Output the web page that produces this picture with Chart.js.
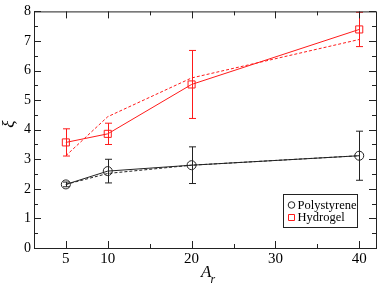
<!DOCTYPE html>
<html>
<head>
<meta charset="utf-8">
<script src="https://cdn.jsdelivr.net/npm/chart.js@4.4.0/dist/chart.umd.min.js"></script>
<style>
  html, body { margin: 0; padding: 0; background: #fff; }
  #wrap { width: 382px; height: 285px; position: relative; }
</style>
</head>
<body>
<div id="wrap"><canvas id="chart"></canvas></div>
<script>
// Aspect ratio A_r on the x axis
const aspectRatios = [5, 10, 20, 40];

// Polystyrene: measured values, error bars, dashed model curve
const polystyrene = [2.15, 2.6, 2.8, 3.12];
const polystyreneErr = [0.08, 0.4, 0.62, 0.83];
const polystyreneModel = [2.15, 2.52, 2.8, 3.12];

// Hydrogel
const hydrogel = [3.57, 3.86, 5.53, 7.39];
const hydrogelErr = [0.46, 0.36, 1.15, 0.58];
const hydrogelModel = [3.12, 4.44, 5.75, 7.05];

// Axis ticks
const xMajorTicks = [5, 10, 20, 30, 40];
const xMinorTicks = [15, 25, 35];
const yMajorTicks = [0, 1, 2, 3, 4, 5, 6, 7, 8];
const yMinorTicks = [0.5, 1.5, 2.5, 3.5, 4.5, 5.5, 6.5, 7.5];

const SERIF = '"Liberation Serif", "DejaVu Serif", serif';
const RED = '#ff1a1a';
const BLACK = '#222';

const toPoints = (ys) => aspectRatios.map((x, i) => ({ x, y: ys[i] }));

// Bordure, graduations internes (4 cotés) et titres d'axes
const framePlugin = {
  id: 'frame',
  afterDraw(chart) {
    const { ctx, chartArea: a, scales: { x, y } } = chart;
    ctx.save();
    ctx.strokeStyle = '#222';
    ctx.lineWidth = 1;
    ctx.strokeRect(a.left + 0.5, a.top + 0.5, a.width, a.height);

    const seg = (x1, y1, x2, y2) => {
      ctx.beginPath(); ctx.moveTo(x1, y1); ctx.lineTo(x2, y2); ctx.stroke();
    };
    const xt = (vals, len) => vals.forEach(v => {
      const p = Math.round(x.getPixelForValue(v)) + 0.5;
      seg(p, a.bottom, p, a.bottom - len);
      seg(p, a.top, p, a.top + len);
    });
    const yt = (vals, len) => vals.forEach(v => {
      const p = Math.round(y.getPixelForValue(v)) + 0.5;
      seg(a.left, p, a.left + len, p);
      seg(a.right, p, a.right - len, p);
    });
    xt(xMajorTicks, 7); xt(xMinorTicks, 4);
    yt(yMajorTicks, 7); yt(yMinorTicks, 4);

    // titre x : A avec indice r
    ctx.fillStyle = '#000';
    ctx.textBaseline = 'alphabetic';
    ctx.textAlign = 'left';
    ctx.font = 'italic 17px ' + SERIF;
    ctx.fillText('A', 201, 276.5);
    ctx.font = 'italic 12px ' + SERIF;
    ctx.fillText('r', 210.5, 282.5);

    // titre y : ξ tourné
    ctx.translate(10, 124);
    ctx.rotate(-Math.PI / 2);
    ctx.font = 'italic 17px ' + SERIF;
    ctx.textAlign = 'center';
    ctx.textBaseline = 'middle';
    ctx.fillText('ξ', 0, 0);
    ctx.restore();
  }
};

// Barres d'erreur depuis dataset.errors
const errorBarPlugin = {
  id: 'errorBars',
  afterDatasetsDraw(chart) {
    const { ctx, scales: { x, y } } = chart;
    ctx.save();
    chart.data.datasets.forEach(ds => {
      if (!ds.errors) return;
      ctx.strokeStyle = ds.borderColor;
      ctx.lineWidth = 1;
      ds.data.forEach((pt, i) => {
        const px = Math.round(x.getPixelForValue(pt.x)) + 0.5;
        const top = y.getPixelForValue(pt.y + ds.errors[i]);
        const bot = y.getPixelForValue(pt.y - ds.errors[i]);
        ctx.beginPath();
        ctx.moveTo(px, top); ctx.lineTo(px, bot);
        ctx.moveTo(px - 3.5, top); ctx.lineTo(px + 3.5, top);
        ctx.moveTo(px - 3.5, bot); ctx.lineTo(px + 3.5, bot);
        ctx.stroke();
      });
    });
    ctx.restore();
  }
};

// Légende encadrée en bas à droite
const legendBoxPlugin = {
  id: 'legendBox',
  afterDraw(chart) {
    const { ctx } = chart;
    const items = chart.data.datasets.filter(ds => ds.inLegend);
    const left = 283, top = 194, w = 74, h = 33;
    ctx.save();
    ctx.fillStyle = '#fff';
    ctx.fillRect(left, top, w, h);
    ctx.strokeStyle = '#222';
    ctx.lineWidth = 1;
    ctx.strokeRect(left + 0.5, top + 0.5, w, h);
    ctx.font = '12.5px ' + SERIF;
    ctx.textBaseline = 'middle';
    ctx.textAlign = 'left';
    items.forEach((ds, i) => {
      const yy = top + 11 + i * 12;
      ctx.strokeStyle = ds.borderColor;
      ctx.beginPath();
      if (ds.pointStyle === 'rect') ctx.rect(left + 5.5, yy - 2.5, 6, 6);
      else ctx.arc(left + 8.5, yy, 3.3, 0, Math.PI * 2);
      ctx.stroke();
      ctx.fillStyle = '#000';
      ctx.fillText(ds.label, left + 14.5, yy + 0.5);
    });
    ctx.restore();
  }
};

new Chart(document.getElementById('chart'), {
  type: 'scatter',
  data: {
    datasets: [
      {
        label: 'Polystyrene model',
        data: toPoints(polystyreneModel),
        showLine: true,
        borderColor: BLACK,
        borderWidth: 1,
        borderDash: [3, 2],
        pointRadius: 0
      },
      {
        label: 'Hydrogel model',
        data: toPoints(hydrogelModel),
        showLine: true,
        borderColor: RED,
        borderWidth: 1,
        borderDash: [3, 2],
        pointRadius: 0
      },
      {
        label: 'Polystyrene',
        data: toPoints(polystyrene),
        errors: polystyreneErr,
        inLegend: true,
        showLine: true,
        borderColor: BLACK,
        borderWidth: 1,
        pointStyle: 'circle',
        pointRadius: 4.5,
        pointBorderWidth: 1,
        pointBackgroundColor: 'rgba(0,0,0,0)'
      },
      {
        label: 'Hydrogel',
        data: toPoints(hydrogel),
        errors: hydrogelErr,
        inLegend: true,
        showLine: true,
        borderColor: RED,
        borderWidth: 1,
        pointStyle: 'rect',
        pointRadius: 5,
        pointBorderWidth: 1,
        pointBackgroundColor: 'rgba(0,0,0,0)'
      }
    ]
  },
  options: {
    responsive: true,
    maintainAspectRatio: false,
    animation: false,
    layout: { padding: { top: 5, right: 1, left: 0, bottom: 0 } },
    plugins: { legend: { display: false }, tooltip: { enabled: false } },
    scales: {
      x: {
        type: 'linear',
        min: 1.2,
        max: 42,
        afterBuildTicks: s => { s.ticks = xMajorTicks.map(v => ({ value: v })); },
        afterFit: s => { s.height = 37; },
        grid: { display: false, drawTicks: false },
        border: { display: false },
        ticks: { color: '#000', padding: 2, maxRotation: 0, font: { family: SERIF, size: 15 } }
      },
      y: {
        min: 0,
        max: 8,
        afterBuildTicks: s => { s.ticks = yMajorTicks.map(v => ({ value: v })); },
        afterFit: s => { s.width = 34; },
        grid: { display: false, drawTicks: false },
        border: { display: false },
        ticks: { color: '#000', padding: 3, font: { family: SERIF, size: 14 } }
      }
    }
  },
  plugins: [errorBarPlugin, framePlugin, legendBoxPlugin]
});
</script>
</body>
</html>
